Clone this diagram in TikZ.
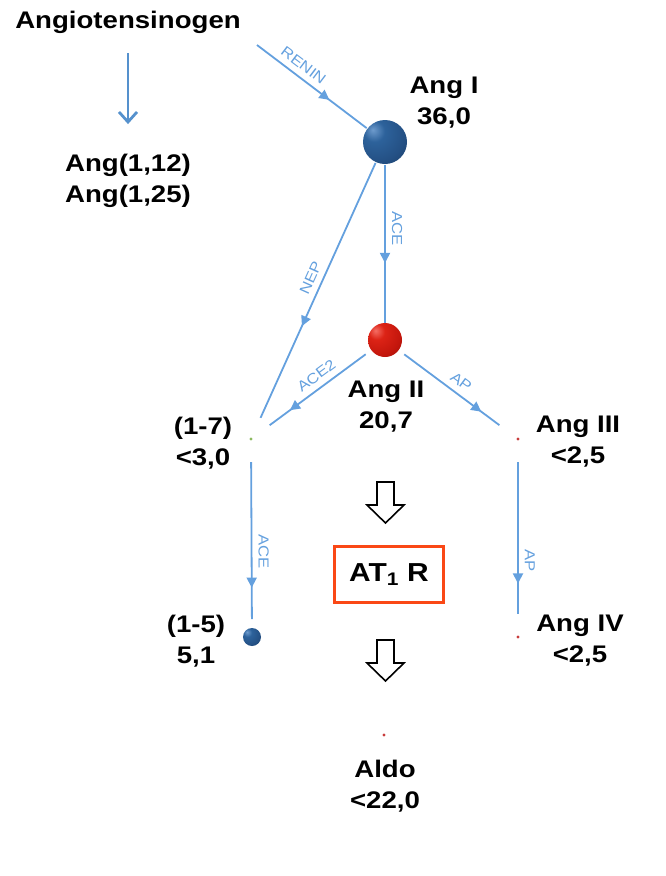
\documentclass[tikz,border=0pt]{standalone}
\usepackage{fontspec}
\setmainfont{Liberation Sans}[FakeStretch=1.15]
\usetikzlibrary{arrows.meta,decorations.markings}
\definecolor{edgeblue}{RGB}{100,160,222}
\definecolor{arrblue}{RGB}{85,145,205}
\definecolor{boxred}{RGB}{250,72,22}
\definecolor{dotred}{RGB}{200,60,60}
\definecolor{dotgreen}{RGB}{140,185,95}
\definecolor{bhi}{RGB}{110,155,205}
\definecolor{bmid}{RGB}{45,98,155}
\definecolor{blo}{RGB}{36,80,132}
\definecolor{bedge}{RGB}{22,55,95}
\definecolor{rhi}{RGB}{245,110,100}
\definecolor{rmid}{RGB}{220,35,22}
\definecolor{rlo}{RGB}{195,22,12}
\definecolor{redge}{RGB}{140,12,6}
\pgfdeclareradialshading{sphB}{\pgfpoint{-14bp}{14bp}}{color(0bp)=(bhi); color(12bp)=(bmid); color(32bp)=(blo); color(52bp)=(bedge); color(100bp)=(bedge)}
\pgfdeclareradialshading{sphR}{\pgfpoint{-14bp}{14bp}}{color(0bp)=(rhi); color(12bp)=(rmid); color(32bp)=(rlo); color(52bp)=(redge); color(100bp)=(redge)}
\begin{document}
\begin{tikzpicture}[x=1pt,y=1pt,
  lbl/.style={font=\fontsize{24}{31}\selectfont\bfseries, align=center, inner sep=0pt},
  elbl/.style={font=\fontsize{14.5}{14.5}\selectfont, text=edgeblue, sloped, above=5pt, inner sep=1pt},
  edge/.style={color=edgeblue, line width=1.8pt},
  markat/.style={postaction={decorate, decoration={markings,
      mark=at position #1 with {\arrow{Triangle[length=10pt,width=10pt]}}}}},
  hub/.style={circle, minimum size=46pt, inner sep=0pt},
  sphere/.style={circle, inner sep=0pt},
  hollow/.style={draw=black, line width=1.6pt, fill=white, line join=miter}
]
\useasboundingbox (0,0) rectangle (665,-876);

% texts
\node[lbl] (angio) at (128,-22) {Angiotensinogen};
\node[lbl] (ang1225) at (128,-181) {Ang(1,12)\\Ang(1,25)};
\draw[color=arrblue, line width=2.8pt, -{Straight Barb[length=10pt,width=18pt]},
      shorten <=20pt, shorten >=30pt] (angio) -- (ang1225);

% main nodes
\coordinate (reninstart) at (257,-45);
\node[sphere, shading=sphB, minimum size=44pt, outer sep=1pt] (angI) at (385,-142) {};
\node[sphere, shading=sphR, minimum size=34pt, outer sep=0pt] (angII) at (385,-340) {};
\node[hub] (p17) at (251,-439) {};
\node[hub] (angIII) at (518,-439) {};
\node[sphere, shading=sphB, minimum size=18pt, outer sep=9pt] (p15) at (252,-637) {};
\node[hub] (angIV) at (518,-637) {};
\node[hub] (aldo) at (384,-735) {};
\fill[dotgreen] (p17) circle (1.6);
\fill[dotred] (angIII) circle (1.6);
\fill[dotred] (angIV) circle (1.6);
\fill[dotred] (aldo) circle (1.6);

% labels
\node[lbl] (angItext) at (444,-103) {Ang I\\36,0};
\node[lbl] (angIItext) at (386,-407) {Ang II\\20,7};
\node[lbl] (p17text) at (203,-443) {(1-7)\\<3,0};
\node[lbl] (angIIItext) at (578,-442) {Ang III\\<2,5};
\node[lbl] (p15text) at (196,-641) {(1-5)\\5,1};
\node[lbl] (angIVtext) at (580,-641) {Ang IV\\<2,5};
\node[lbl] (aldotext) at (385,-786) {Aldo\\<22,0};

\node[draw=boxred, line width=3pt, minimum width=109pt, minimum height=56pt,
      font=\fontsize{26}{26}\selectfont\bfseries] (at1r) at (389,-574.5) {AT\textsubscript{1} R};

% connectors
\draw[edge, markat=0.66] (reninstart) -- (angI) node[elbl, pos=0.36] {RENIN};
\draw[edge, markat=0.62] (angI) -- (angII) node[elbl, pos=0.4] {ACE};
\draw[edge, markat=0.64] (angI) -- (p17) node[elbl, pos=0.47] {NEP};
\draw[edge, markat=0.8, shorten <=7pt] (angII) -- (p17) node[elbl, pos=0.47] {ACE2};
\draw[edge, markat=0.82, shorten <=7pt] (angII) -- (angIII) node[elbl, pos=0.55] {AP};
\draw[edge, markat=0.8] (p17) -- (p15) node[elbl, pos=0.57] {ACE};
\draw[edge, markat=0.8] (angIII) -- (angIV) node[elbl, pos=0.65] {AP};

% hollow block arrows
\draw[hollow] (377,-482) -- (394,-482) -- (394,-505) -- (404,-505) -- (385.5,-523)
   -- (367,-505) -- (377,-505) -- cycle;
\draw[hollow] (377,-640) -- (394,-640) -- (394,-663) -- (404,-663) -- (385.5,-681)
   -- (367,-663) -- (377,-663) -- cycle;
\end{tikzpicture}
\end{document}
